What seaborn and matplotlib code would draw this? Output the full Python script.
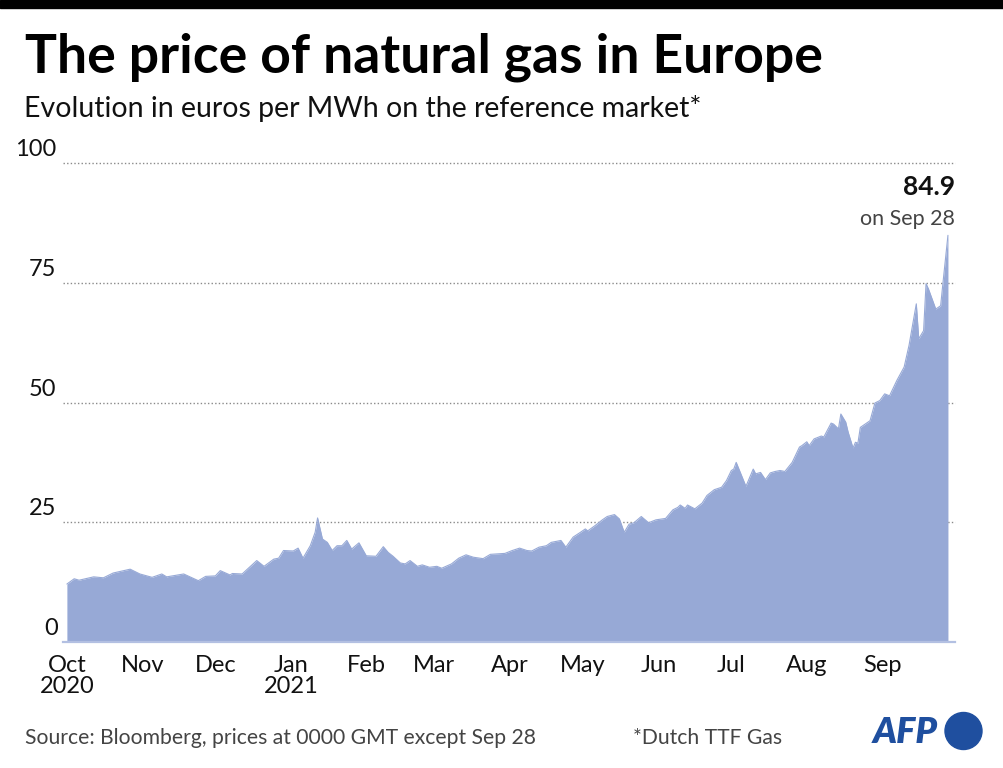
"""Natural gas price in Europe (Dutch TTF), Oct 2020 - Sep 2021"""
import pandas as pd
import matplotlib
matplotlib.use('Agg')
import matplotlib.pyplot as plt
from matplotlib.patches import Rectangle, Ellipse
import seaborn as sns

# values (euros per MWh)
dates = [
    '2020-10-01', '2020-10-04', '2020-10-06', '2020-10-12', '2020-10-16', '2020-10-20',
    '2020-10-27', '2020-10-31', '2020-11-05', '2020-11-09', '2020-11-11', '2020-11-18',
    '2020-11-24', '2020-11-27', '2020-12-01', '2020-12-03', '2020-12-07', '2020-12-08',
    '2020-12-12', '2020-12-18', '2020-12-21', '2020-12-25', '2020-12-27', '2020-12-29',
    '2021-01-02', '2021-01-04', '2021-01-06', '2021-01-09', '2021-01-11', '2021-01-12',
    '2021-01-14', '2021-01-16', '2021-01-18', '2021-01-20', '2021-01-22', '2021-01-24',
    '2021-01-26', '2021-01-29', '2021-02-01', '2021-02-05', '2021-02-08', '2021-02-10',
    '2021-02-12', '2021-02-15', '2021-02-17', '2021-02-19', '2021-02-22', '2021-02-24',
    '2021-02-27', '2021-03-02', '2021-03-04', '2021-03-08', '2021-03-11', '2021-03-14',
    '2021-03-17', '2021-03-21', '2021-03-24', '2021-03-27', '2021-03-30', '2021-04-02',
    '2021-04-05', '2021-04-08', '2021-04-10', '2021-04-13', '2021-04-16', '2021-04-18',
    '2021-04-22', '2021-04-24', '2021-04-27', '2021-04-30', '2021-05-02', '2021-05-03',
    '2021-05-06', '2021-05-09', '2021-05-11', '2021-05-14', '2021-05-16', '2021-05-18',
    '2021-05-20', '2021-05-22', '2021-05-25', '2021-05-28', '2021-05-31', '2021-06-04',
    '2021-06-07', '2021-06-09', '2021-06-10', '2021-06-12', '2021-06-13', '2021-06-16',
    '2021-06-19', '2021-06-21', '2021-06-24', '2021-06-27', '2021-06-29', '2021-07-01',
    '2021-07-02', '2021-07-03', '2021-07-07', '2021-07-10', '2021-07-11', '2021-07-13',
    '2021-07-15', '2021-07-17', '2021-07-19', '2021-07-21', '2021-07-23', '2021-07-26',
    '2021-07-29', '2021-07-30', '2021-08-01', '2021-08-02', '2021-08-04', '2021-08-07',
    '2021-08-08', '2021-08-11', '2021-08-12', '2021-08-14', '2021-08-15', '2021-08-17',
    '2021-08-18', '2021-08-20', '2021-08-21', '2021-08-22', '2021-08-23', '2021-08-25',
    '2021-08-27', '2021-08-29', '2021-08-31', '2021-09-02', '2021-09-04', '2021-09-07',
    '2021-09-10', '2021-09-12', '2021-09-15', '2021-09-16', '2021-09-18', '2021-09-19',
    '2021-09-20', '2021-09-23', '2021-09-25', '2021-09-26', '2021-09-28',
]
prices = [
    12.1, 13.2, 12.9, 13.6, 13.4, 14.4,
    15.2, 14.2, 13.5, 14.2, 13.6, 14.2,
    12.8, 13.7, 13.8, 14.9, 14.0, 14.3,
    14.2, 17.0, 15.8, 17.3, 17.5, 19.1,
    19.0, 19.6, 17.5, 20.1, 22.9, 25.9,
    21.5, 20.8, 19.1, 20.1, 20.1, 21.2,
    19.4, 20.7, 18.0, 17.9, 19.9, 18.7,
    17.9, 16.5, 16.3, 17.0, 15.8, 16.1,
    15.6, 15.8, 15.4, 16.3, 17.5, 18.2,
    17.7, 17.4, 18.3, 18.4, 18.5, 19.1,
    19.6, 19.1, 19.0, 19.8, 20.1, 20.8,
    21.2, 19.8, 21.9, 22.9, 23.6, 23.2,
    24.3, 25.5, 26.2, 26.6, 25.7, 22.9,
    24.6, 24.9, 26.2, 24.9, 25.5, 25.8,
    27.6, 28.1, 28.6, 27.9, 28.6, 27.8,
    29.0, 30.6, 31.8, 32.3, 33.7, 35.8,
    36.1, 37.5, 32.5, 36.1, 35.1, 35.4,
    33.9, 35.3, 35.6, 35.8, 35.6, 37.5,
    40.7, 41.0, 41.8, 41.0, 42.4, 43.0,
    42.8, 45.7, 45.5, 44.5, 47.6, 45.9,
    43.8, 40.5, 41.7, 41.5, 44.8, 45.5,
    46.2, 49.9, 50.4, 51.8, 51.4, 54.6,
    57.4, 61.9, 70.6, 63.3, 65.0, 74.8,
    73.7, 69.5, 70.2, 75.2, 84.9,
]
month_starts = ['2020-10-01', '2020-11-01', '2020-12-01', '2021-01-01', '2021-02-01',
                '2021-03-01', '2021-04-01', '2021-05-01', '2021-06-01', '2021-07-01',
                '2021-08-01', '2021-09-01']
month_labels = ['Oct\n2020', 'Nov', 'Dec', 'Jan\n2021', 'Feb', 'Mar', 'Apr',
                'May', 'Jun', 'Jul', 'Aug', 'Sep']
y_ticks = [0, 25, 50, 75, 100]

df = pd.DataFrame({'date': pd.to_datetime(dates), 'price': prices})

sns.set_theme(style='white')
plt.rcParams['font.family'] = ['Lato', 'DejaVu Sans']

AREA = '#97a9d6'
W, H = 1004, 768
fig = plt.figure(figsize=(W / 100, H / 100), dpi=100)
fig.patch.set_facecolor('white')

# axes: left edge x=63px, right edge x=955px, y=0 at 642px, y=100 at 163px
ax = fig.add_axes([63 / W, 1 - 642 / H, (955 - 63) / W, (642 - 163) / H])
ax.set_facecolor('white')

ax.fill_between(df['date'], df['price'], 0, color=AREA, lw=0, zorder=2)
sns.lineplot(data=df, x='date', y='price', ax=ax, color=AREA, lw=0.8, zorder=3)

ax.set_xlim(pd.Timestamp('2020-10-01') - pd.Timedelta(days=1.6),
            pd.Timestamp('2021-09-28') + pd.Timedelta(days=2.9))
ax.set_ylim(0, 100)

# dotted gridlines with labels sitting just above them
for v in y_ticks[1:]:
    ax.axhline(v, color='#8a8a8a', lw=1.0, ls=(0, (1, 1.6)), zorder=1, clip_on=False)
    ax.text(-0.008, v + 0.6, str(v), transform=ax.get_yaxis_transform(), ha='right',
            va='bottom', fontsize=17, color='#111111')
ax.text(-0.006, 0.6, '0', transform=ax.get_yaxis_transform(), ha='right',
        va='bottom', fontsize=17, color='#111111')
ax.set_yticks([])

ax.set_xticks(pd.to_datetime(month_starts))
ax.set_xticklabels(month_labels, fontsize=17, color='#111111', linespacing=1.05)
ax.tick_params(axis='x', direction='in', length=6, width=1.1, color='#2b3a5c', pad=9)
ax.set_xlabel('')
ax.set_ylabel('')

for s in ['top', 'right', 'left']:
    ax.spines[s].set_visible(False)
ax.spines['bottom'].set_color('#b3c0e2')
ax.spines['bottom'].set_linewidth(1.6)
ax.spines['bottom'].set_zorder(4)

# last value annotation
ax.text(1.0, 0.950, '84.9', transform=ax.transAxes, ha='right', va='center',
        fontsize=19, fontweight='bold', color='#111111')
ax.text(1.0, 0.884, 'on Sep 28', transform=ax.transAxes, ha='right', va='center',
        fontsize=15.5, color='#444444')

# header
fig.patches.append(Rectangle((0, 1 - 8 / H), 1, 8 / H, transform=fig.transFigure,
                             color='black', zorder=10))
fig.text(25 / W, 1 - 72 / H, 'The price of natural gas in Europe', fontsize=38.5,
         fontweight='bold', color='black', ha='left', va='baseline')
fig.text(24 / W, 1 - 117 / H, 'Evolution in euros per MWh on the reference market*',
         fontsize=20.5, color='#111111', ha='left', va='baseline')

# footer
fig.text(25 / W, 1 - 744 / H, 'Source: Bloomberg, prices at 0000 GMT except Sep 28',
         fontsize=15.2, color='#444444', ha='left', va='baseline')
fig.text(633 / W, 1 - 744 / H, '*Dutch TTF Gas', fontsize=15.2, color='#444444',
         ha='left', va='baseline')
AFP_BLUE = '#1f4f9f'
fig.text(873 / W, 1 - 743 / H, 'AFP', fontsize=26, fontweight='heavy', fontstyle='italic',
         color=AFP_BLUE, ha='left', va='baseline')
fig.patches.append(Ellipse((963.5 / W, 1 - 731 / H), 37 / W, 37 / H,
                           transform=fig.transFigure, color=AFP_BLUE))

fig.savefig('out.png', dpi=100)
